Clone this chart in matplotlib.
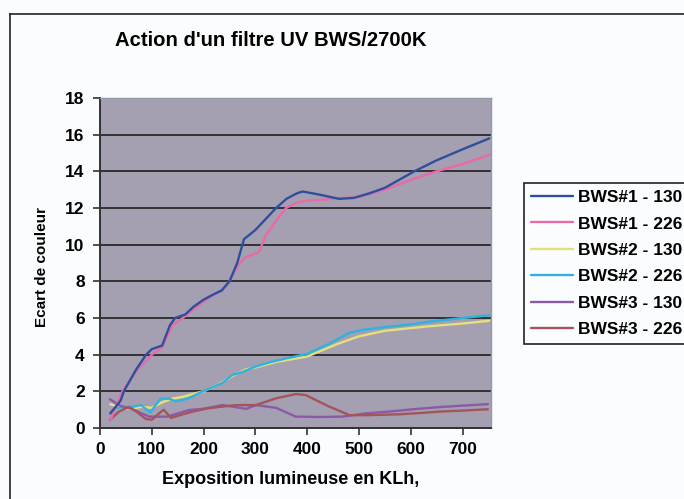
import matplotlib
matplotlib.use("Agg")
import matplotlib.pyplot as plt
from matplotlib.lines import Line2D

plt.rcParams['font.family'] = ['Liberation Sans', 'DejaVu Sans']

title = "Action d'un filtre UV BWS/2700K"
xlabel = "Exposition lumineuse en KLh,"
ylabel = "Ecart de couleur"
labels = ["BWS#1 - 130", "BWS#1 - 226", "BWS#2 - 130", "BWS#2 - 226", "BWS#3 - 130", "BWS#3 - 226"]
colors = ["#2f4f9e", "#e86aa6", "#e6e07a", "#2fb2e0", "#8a5aa8", "#a3555a"]

x1a = [20, 40, 46, 70, 89, 100, 120, 135, 145, 165, 180, 200, 220, 235, 250, 265, 278, 300, 320, 340, 360, 380, 391, 420, 445, 462, 490, 520, 550, 607, 650, 700, 752]
y1a = [0.8, 1.5, 2.0, 3.2, 4.0, 4.3, 4.5, 5.6, 6.0, 6.2, 6.6, 7.0, 7.3, 7.5, 8.0, 9.0, 10.3, 10.8, 11.4, 12.0, 12.5, 12.8, 12.9, 12.75, 12.6, 12.5, 12.55, 12.8, 13.1, 14.0, 14.6, 15.2, 15.8]

x1b = [20, 43, 70, 100, 120, 140, 160, 200, 220, 235, 250, 265, 280, 307, 320, 340, 359, 380, 400, 450, 500, 550, 607, 650, 700, 752]
y1b = [0.4, 2.0, 3.1, 4.0, 4.4, 5.6, 6.0, 6.9, 7.3, 7.5, 8.0, 8.8, 9.3, 9.6, 10.5, 11.3, 12.0, 12.3, 12.4, 12.5, 12.6, 13.0, 13.6, 14.0, 14.4, 14.9]

x2a = [20, 40, 60, 80, 100, 120, 140, 160, 185, 200, 230, 260, 282, 300, 340, 380, 400, 430, 460, 500, 550, 600, 636, 700, 752]
y2a = [1.3, 1.1, 1.05, 1.15, 1.1, 1.4, 1.6, 1.7, 1.9, 2.0, 2.4, 2.9, 3.2, 3.3, 3.6, 3.8, 3.9, 4.25, 4.6, 5.0, 5.3, 5.45, 5.55, 5.7, 5.85]

x2b = [19, 31, 62, 79, 97, 117, 133, 146, 170, 198, 236, 256, 275, 300, 330, 360, 401, 443, 482, 507, 550, 600, 636, 700, 752]
y2b = [0.8, 1.1, 1.15, 1.25, 0.85, 1.6, 1.6, 1.45, 1.6, 2.0, 2.45, 2.9, 3.05, 3.35, 3.6, 3.8, 4.05, 4.6, 5.2, 5.35, 5.5, 5.65, 5.8, 6.0, 6.15]

x3a = [19, 40, 62, 80, 95, 130, 172, 200, 236, 260, 282, 301, 340, 378, 420, 468, 514, 560, 611, 660, 700, 749]
y3a = [1.57, 1.2, 1.04, 0.8, 0.62, 0.62, 0.98, 1.05, 1.25, 1.15, 1.04, 1.25, 1.1, 0.62, 0.6, 0.62, 0.8, 0.9, 1.04, 1.15, 1.22, 1.3]

x3b = [19, 37, 55, 70, 88, 100, 110, 123, 137, 160, 180, 204, 230, 262, 301, 340, 378, 397, 440, 482, 520, 578, 620, 660, 700, 749]
y3b = [0.44, 0.9, 1.15, 0.9, 0.5, 0.45, 0.7, 1.0, 0.55, 0.75, 0.9, 1.05, 1.15, 1.25, 1.25, 1.62, 1.85, 1.8, 1.2, 0.7, 0.7, 0.75, 0.82, 0.9, 0.95, 1.02]

series = [(x1a, y1a), (x1b, y1b), (x2a, y2a), (x2b, y2b), (x3a, y3a), (x3b, y3b)]
xticks = [0, 100, 200, 300, 400, 500, 600, 700]
yticks = [0, 2, 4, 6, 8, 10, 12, 14, 16, 18]

W, H = 684, 499
fig = plt.figure(figsize=(W / 100, H / 100), dpi=100)
fig.patch.set_facecolor("#fbfcfd")

# outer chart frame (left and top visible)
fig.add_artist(Line2D([10 / W, 10 / W], [0, 1 - 14 / H], transform=fig.transFigure, color="#222222", lw=1.2))
fig.add_artist(Line2D([10 / W, 1], [1 - 14 / H, 1 - 14 / H], transform=fig.transFigure, color="#222222", lw=1.2))

ax = fig.add_axes([100 / W, 1 - 428 / H, (491 - 100) / W, (428 - 98) / H])
ax.set_facecolor("#a59fb2")

order = [2, 3, 4, 5, 1, 0]
lines = {}
for i in order:
    xs, ys = series[i]
    ln, = ax.plot(xs, ys, color=colors[i], lw=1.7, label=labels[i], solid_capstyle="round")
    lines[i] = ln

ax.set_xlim(0, 755)
ax.set_ylim(0, 18)
ax.set_xticks(xticks)
ax.set_yticks(yticks)
ax.yaxis.grid(True, color="#2a2a2a", lw=1.3)
ax.set_axisbelow(True)
ax.tick_params(axis="both", direction="out", length=5, width=1.2, color="#333333", labelsize=12.5)
for lab in ax.get_xticklabels() + ax.get_yticklabels():
    lab.set_fontweight("bold")
ax.tick_params(axis="x", pad=5)
ax.tick_params(axis="y", pad=6)
for s in ["left", "bottom"]:
    ax.spines[s].set_color("#333333")
    ax.spines[s].set_linewidth(1.4)
for s in ["top", "right"]:
    ax.spines[s].set_color("#8f9aaa")
    ax.spines[s].set_linewidth(1.0)

fig.text(271 / W, 1 - 40 / H, title, ha="center", va="center", fontsize=14.6, fontweight="bold")
fig.text(291 / W, 1 - 480 / H, xlabel, ha="center", va="center", fontsize=13, fontweight="bold")
fig.text(42 / W, 1 - 267 / H, ylabel, ha="center", va="center", rotation=90, fontsize=11, fontweight="bold")

handles = [lines[i] for i in range(6)]
leg = fig.legend(handles, labels, loc="upper left", bbox_to_anchor=(524 / W, 1 - 183 / H),
                 bbox_transform=fig.transFigure, frameon=True, fancybox=False,
                 edgecolor="#222222", facecolor="#fbfcfd", framealpha=1,
                 prop={"weight": "bold", "size": 12.5}, handlelength=2.4, handletextpad=0.3,
                 labelspacing=0.65, borderpad=0.4, borderaxespad=0)
leg.get_frame().set_linewidth(1.2)

fig.savefig("out.png", dpi=100, facecolor=fig.get_facecolor())
